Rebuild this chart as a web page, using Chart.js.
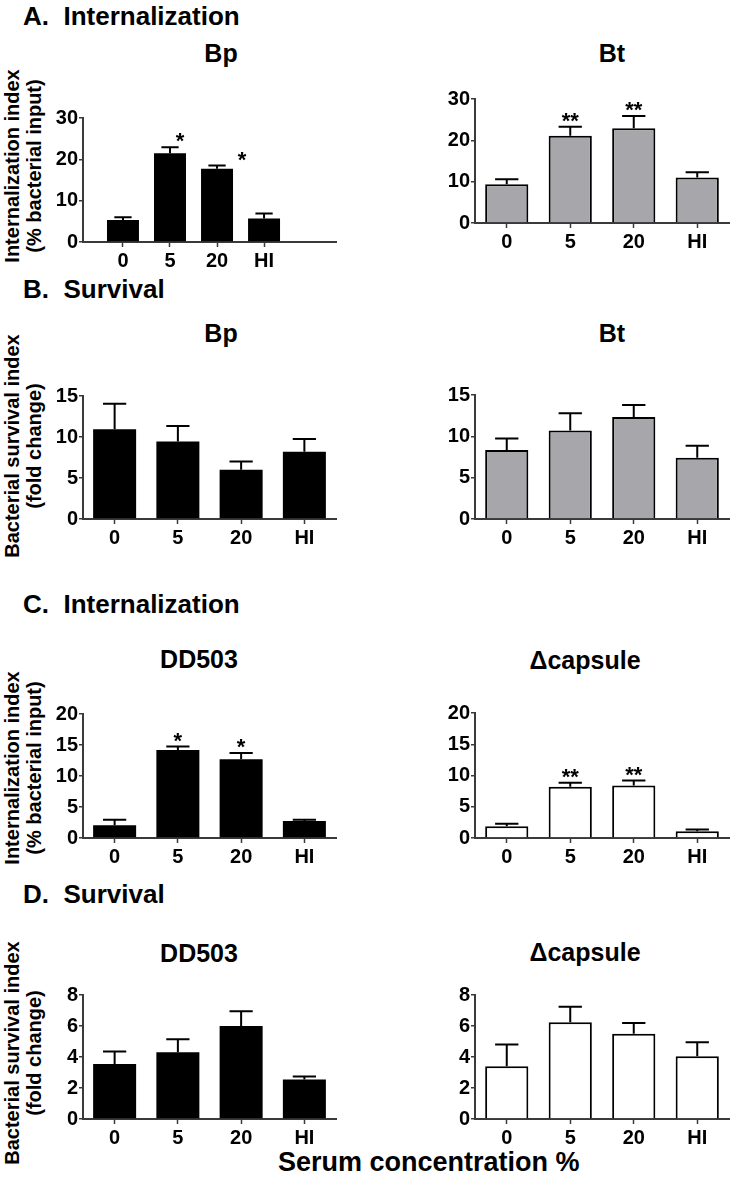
<!DOCTYPE html>
<html>
<head>
<meta charset="utf-8">
<script src="https://cdn.jsdelivr.net/npm/chart.js@4.4.1/dist/chart.umd.min.js"></script>
<style>
  body { margin: 0; background: #fff; }
  #fig { position: relative; width: 734px; height: 1195px; overflow: hidden;
         font-family: 'Liberation Sans', Arial, sans-serif; font-weight: bold; color: #000; }
  #fig canvas { position: absolute; }
  .t { position: absolute; white-space: pre; line-height: 1; }
  .v { position: absolute; white-space: pre; text-align: center; font-size: 20px; line-height: 22px;
       transform: translate(-50%, -50%) rotate(-90deg); }
</style>
</head>
<body>
<div id="fig"></div>
<script>
const categories = ['0', '5', '20', 'HI']

// A. Internalization (% bacterial input)
const bpInternal = [5.3, 21.5, 17.7, 5.7]
const bpInternalErr = [0.7, 1.4, 0.8, 1.2]
const bpInternalStars = ['', '*', '*', '']
const btInternal = [9.4, 21.1, 22.9, 11.0]
const btInternalErr = [1.2, 2.2, 3.0, 1.3]
const btInternalStars = ['', '**', '**', '']

// B. Survival (fold change)
const bpSurvival = [10.95, 9.45, 6.0, 8.2]
const bpSurvivalErr = [3.1, 1.9, 1.0, 1.55]
const btSurvival = [8.35, 10.7, 12.35, 7.4]
const btSurvivalErr = [1.4, 2.1, 1.45, 1.45]

// C. Internalization
const dd503Internal = [2.05, 14.2, 12.7, 2.75]
const dd503InternalErr = [0.9, 0.55, 1.0, 0.2]
const dd503InternalStars = ['', '*', '*', '']
const capInternal = [1.9, 8.2, 8.4, 1.1]
const capInternalErr = [0.4, 0.65, 0.8, 0.27]
const capInternalStars = ['', '**', '**', '']

// D. Survival
const dd503Survival = [3.55, 4.3, 6.0, 2.55]
const dd503SurvivalErr = [0.8, 0.85, 0.95, 0.2]
const capSurvival = [3.4, 6.25, 5.5, 4.05]
const capSurvivalErr = [1.4, 1.0, 0.7, 0.9]

// y axis ranges [max, step]
const yInternalA = [30, 10]
const ySurvivalB = [15, 5]
const yInternalC = [20, 5]
const ySurvivalD = [8, 2]

const FONT = "'Liberation Sans', Arial, sans-serif"
const AXIS = '#3a3a3a'
const fig = document.getElementById('fig')

Chart.defaults.font.family = FONT
Chart.defaults.font.weight = 'bold'
Chart.defaults.color = '#000'

// error bars (upper only) + significance stars
const errorBars = {
  id: 'errorBars',
  afterDatasetsDraw(chart) {
    const { ctx, scales: { y } } = chart
    const ds = chart.data.datasets[0]
    const meta = chart.getDatasetMeta(0)
    ctx.save()
    ctx.strokeStyle = '#000'
    ctx.lineWidth = 2
    ctx.fillStyle = '#000'
    ctx.font = 'bold 22px ' + FONT
    ctx.textAlign = 'center'
    ctx.textBaseline = 'alphabetic'
    meta.data.forEach((bar, i) => {
      const top = y.getPixelForValue(ds.data[i].y + ds.errors[i])
      const half = bar.width * 0.27
      ctx.beginPath()
      ctx.moveTo(bar.x, bar.y)
      ctx.lineTo(bar.x, top)
      ctx.moveTo(bar.x - half, top)
      ctx.lineTo(bar.x + half, top)
      ctx.stroke()
      const s = ds.stars && ds.stars[i]
      if (s) {
        const dx = ds.starShift ? ds.starShift[i] : 0
        ctx.fillText(s, bar.x + dx, top + 1)
      }
    })
    ctx.restore()
  }
}

const PAD_TOP = 20, PAD_RIGHT = 15, PAD_BOTTOM = 5, Y_W = 60, X_H = 40

function panel(p) {
  const [l, t, r, b] = p.area
  const canvas = document.createElement('canvas')
  const w = (r - l) + Y_W + PAD_RIGHT
  const h = (b - t) + PAD_TOP + X_H + PAD_BOTTOM
  canvas.width = w
  canvas.height = h
  canvas.style.left = (l - Y_W) + 'px'
  canvas.style.top = (t - PAD_TOP) + 'px'
  canvas.style.width = w + 'px'
  canvas.style.height = h + 'px'
  fig.appendChild(canvas)

  new Chart(canvas, {
    type: 'bar',
    data: {
      datasets: [{
        data: p.values.map((v, i) => ({ x: i + 1, y: v })),
        errors: p.errors,
        stars: p.stars,
        starShift: p.starShift,
        backgroundColor: p.fill,
        borderColor: '#000',
        borderWidth: p.fill === '#000' ? 0 : 2,
        barPercentage: 0.68,
        categoryPercentage: 1
      }]
    },
    options: {
      responsive: false,
      animation: false,
      events: [],
      devicePixelRatio: 1,
      layout: { padding: { left: 0, top: PAD_TOP, right: PAD_RIGHT, bottom: PAD_BOTTOM } },
      plugins: { legend: { display: false }, tooltip: { enabled: false } },
      scales: {
        x: {
          type: 'linear',
          min: p.xMin ?? 0.5,
          max: p.xMax ?? 4.5,
          offset: false,
          afterBuildTicks: s => { s.ticks = categories.map((c, i) => ({ value: i + 1 })) },
          afterFit: s => { s.height = X_H },
          grid: { offset: false, drawOnChartArea: true, display: true, color: 'rgba(0,0,0,0)',
                  tickColor: AXIS, tickLength: 5, tickWidth: 1.5 },
          border: { display: true, color: AXIS, width: 2 },
          ticks: { callback: v => categories[v - 1] ?? '', font: { size: 20, weight: 'bold' },
                   color: '#000', padding: 2, maxRotation: 0, autoSkip: false }
        },
        y: {
          min: 0,
          max: p.yAxis[0],
          afterFit: s => { s.width = Y_W },
          grid: { drawOnChartArea: false, color: AXIS, tickLength: 4, lineWidth: 1.5 },
          border: { display: true, color: AXIS, width: 2 },
          ticks: { stepSize: p.yAxis[1], font: { size: 20, weight: 'bold' }, color: '#000', padding: 1 }
        }
      }
    },
    plugins: [errorBars]
  })
}

function text(str, x, baseline, size, center) {
  const el = document.createElement('div')
  el.className = 't'
  el.textContent = str
  el.style.fontSize = size + 'px'
  el.style.top = (baseline - 0.8465 * size) + 'px'
  el.style.left = x + 'px'
  if (center) el.style.transform = 'translateX(-50%)'
  fig.appendChild(el)
}

function vtitle(lines, cx, cy) {
  const el = document.createElement('div')
  el.className = 'v'
  el.textContent = lines.join('\n')
  el.style.left = cx + 'px'
  el.style.top = cy + 'px'
  fig.appendChild(el)
}

// section and panel titles
text('A.  Internalization', 23, 25, 26)
text('B.  Survival', 23, 298, 26)
text('C.  Internalization', 23, 613, 26)
text('D.  Survival', 23, 903, 26)
text('Bp', 221, 62, 25, true)
text('Bt', 612, 62, 25, true)
text('Bp', 221, 342, 25, true)
text('Bt', 612, 342, 25, true)
text('DD503', 199, 668, 25, true)
text('\u0394capsule', 585, 669, 25, true)
text('DD503', 199, 962, 25, true)
text('\u0394capsule', 585, 961, 25, true)
text('Serum concentration %', 278, 1172, 27)

vtitle(['Internalization index', '(% bacterial input)'], 23, 166)
vtitle(['Bacterial survival index', '(fold change)'], 23, 446)
vtitle(['Internalization index', '(% bacterial input)'], 23, 768)
vtitle(['Bacterial survival index', '(fold change)'], 23, 1053)

// panels: chart area [left, top, right, bottom]
panel({ area: [83, 118, 336, 242], values: bpInternal, errors: bpInternalErr, stars: bpInternalStars,
        starShift: [0, 10, 25, 0], yAxis: yInternalA, fill: '#000', xMin: 0.15, xMax: 5.53 })
panel({ area: [475, 99, 729, 223], values: btInternal, errors: btInternalErr, stars: btInternalStars,
        yAxis: yInternalA, fill: '#a7a7ab' })
panel({ area: [83, 396, 336, 519], values: bpSurvival, errors: bpSurvivalErr, yAxis: ySurvivalB, fill: '#000' })
panel({ area: [475, 395, 729, 519], values: btSurvival, errors: btSurvivalErr, yAxis: ySurvivalB, fill: '#a7a7ab' })
panel({ area: [83, 714, 336, 838], values: dd503Internal, errors: dd503InternalErr, stars: dd503InternalStars,
        yAxis: yInternalC, fill: '#000' })
panel({ area: [475, 713, 729, 838], values: capInternal, errors: capInternalErr, stars: capInternalStars,
        yAxis: yInternalC, fill: '#fff' })
panel({ area: [83, 995, 336, 1119], values: dd503Survival, errors: dd503SurvivalErr, yAxis: ySurvivalD, fill: '#000' })
panel({ area: [475, 995, 729, 1119], values: capSurvival, errors: capSurvivalErr, yAxis: ySurvivalD, fill: '#fff' })
</script>
</body>
</html>
